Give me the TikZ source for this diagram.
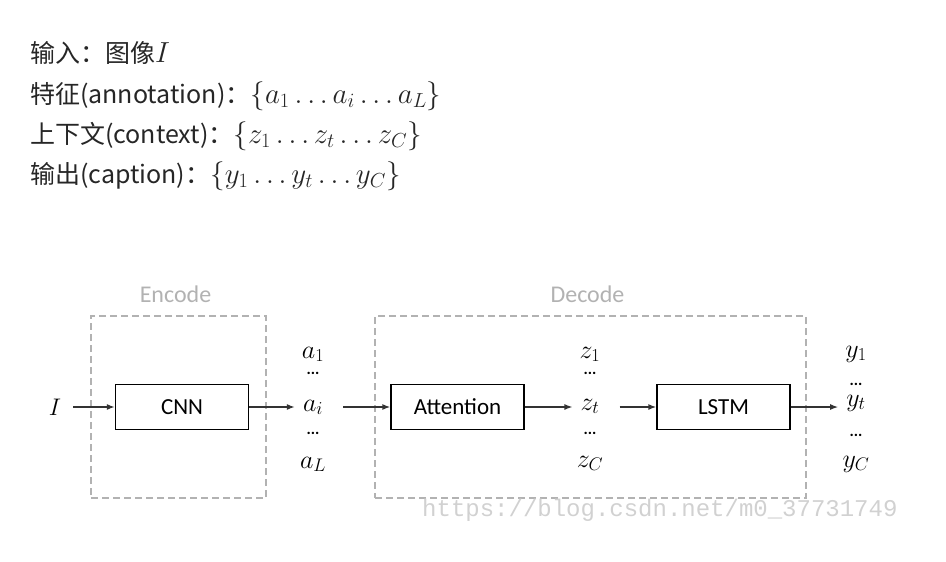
\RequirePackage{fix-cm}
\documentclass[tikz,border=0pt]{standalone}
\usepackage{fontspec}
\setmainfont{Carlito}
\newfontfamily\cjk{Noto Sans CJK SC}
\newfontfamily\wmfont{Liberation Mono}
\usetikzlibrary{positioning,arrows.meta}
\newcommand\hdrmath[1]{{\fontsize{29}{32}\selectfont$#1$}}

\begin{document}
\begin{tikzpicture}[x=1pt,y=-1pt,
  block/.style={draw,line width=1.3pt,minimum width=133pt,minimum height=45pt,font=\fontsize{23}{26}\selectfont},
  frame/.style={draw=black!30,dashed,dash pattern=on 7pt off 4pt,line width=1.2pt},
  tag/.style={inner sep=0pt,text=black!30,font=\fontsize{24}{26}\selectfont},
  flow/.style={-{Latex[length=8pt,width=6pt]},line width=1.3pt,draw=black!80},
  seq/.style={anchor=base,inner xsep=8pt,inner ysep=0pt,font=\fontsize{26}{28}\selectfont},
  dots/.style={anchor=base,inner sep=0pt,font=\bfseries\fontsize{16}{18}\selectfont},
  hdr/.style={anchor=base west,inner sep=0pt,text=black!85,font=\cjk\fontsize{25}{28}\selectfont}]
 \useasboundingbox (0,0) rectangle (946,562);
 \node[hdr] (input) at (30,62) {输入：图像\hdrmath{I}};
 \node[hdr] (annot) at (30,103) {特征(annotation)：\hdrmath{\{a_1\ldots a_i\ldots a_L\}}};
 \node[hdr] (ctx) at (30,143) {上下文(context)：\hdrmath{\{z_1\ldots z_t\ldots z_C\}}};
 \node[hdr] (capt) at (30,183) {输出(caption)：\hdrmath{\{y_1\ldots y_t\ldots y_C\}}};

 \node[frame,minimum width=175pt,minimum height=182pt] (enc) at (178.5,407) {};
 \node[frame,minimum width=431pt,minimum height=182pt] (dec) at (590.5,407) {};
 \node[tag,above=13pt of enc.north,xshift=-3pt] (enclabel) {Encode};
 \node[tag,above=13pt of dec.north,xshift=-3pt] (declabel) {Decode};

 \node[block] (cnn) at (182,407) {CNN};
 \node[block] (att) at (457.5,407) {Attention};
 \node[block] (lstm) at (723.5,407) {LSTM};

 \node[inner xsep=12pt,font=\fontsize{24}{26}\selectfont] (img) at (55,407) {$I$};

 \node[seq] (a1) at (313,358) {$a_1$};
 \node[dots] (ad1) at (313,374) {...};
 \node[seq] (ai) at (313,411) {$a_i$};
 \node[dots] (ad2) at (313,434) {...};
 \node[seq] (aL) at (313,468) {$a_L$};

 \node[seq] (z1) at (590,358) {$z_1$};
 \node[dots] (zd1) at (590,374) {...};
 \node[seq] (zt) at (590,410) {$z_t$};
 \node[dots] (zd2) at (590,434) {...};
 \node[seq] (zC) at (590,467) {$z_C$};

 \node[seq] (y1) at (856,357) {$y_1$};
 \node[dots] (yd1) at (856,385) {...};
 \node[seq] (yt) at (856,406) {$y_t$};
 \node[dots] (yd2) at (856,436) {...};
 \node[seq] (yC) at (856,467) {$y_C$};

 \draw[flow] (img) -- (cnn);
 \draw[flow] (cnn) -- (cnn -| ai.west);
 \draw[flow,shorten <=12pt] (att -| ai.east) -- (att);
 \draw[flow] (att) -- (att -| zt.west);
 \draw[flow,shorten <=12pt] (lstm -| zt.east) -- (lstm);
 \draw[flow] (lstm) -- (lstm -| yt.west);

 \node[anchor=base west,inner sep=0pt,text=black!18,font=\wmfont\fontsize{24}{26}\selectfont] (mark) at (422,516) {https://blog.csdn.net/m0\_37731749};
\end{tikzpicture}
\end{document}
